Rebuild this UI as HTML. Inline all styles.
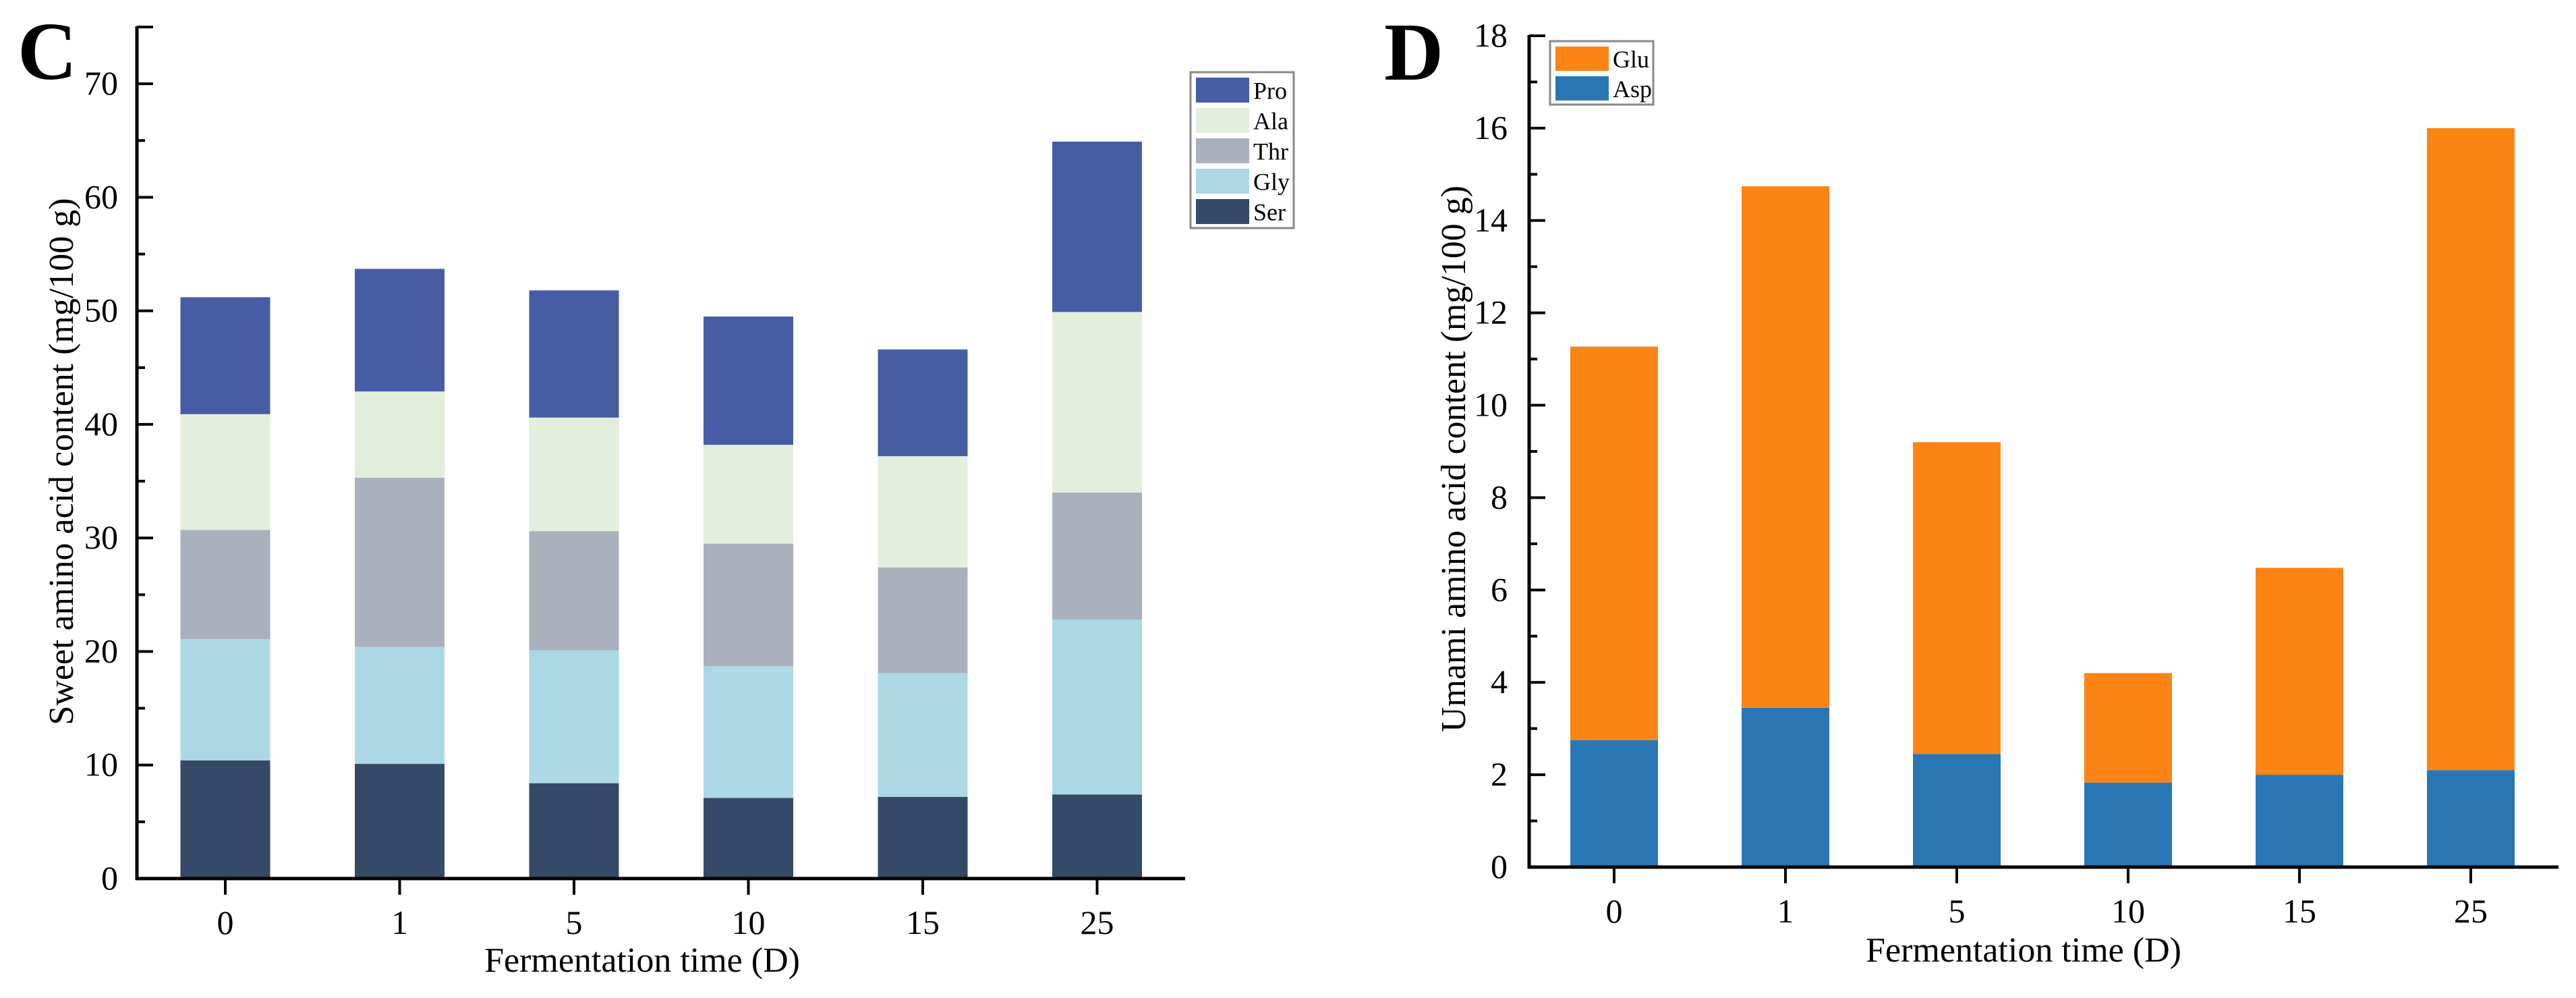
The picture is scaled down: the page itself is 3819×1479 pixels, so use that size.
<!DOCTYPE html>
<html><head><meta charset="utf-8"><style>
html,body{margin:0;padding:0;background:#fff;width:3819px;height:1479px;overflow:hidden}
svg{display:block}
text{font-family:"Liberation Serif","Times New Roman",serif}
</style></head><body>
<svg id="fig" width="3819" height="1479" viewBox="0 0 3819 1479" xmlns="http://www.w3.org/2000/svg" font-family="Liberation Serif, serif">
<text x="26" y="117" font-size="122" font-weight="bold" font-family="Liberation Serif, serif">C</text>
<text x="2052" y="118" font-size="122" font-weight="bold" font-family="Liberation Serif, serif">D</text>
<g id="chartC"></g>
<g id="chartD"></g>
</svg>
<script>
const categories = ["0","1","5","10","15","25"];
// Chart C components (stacked)
const serVals = [10.4, 10.1, 8.4, 7.1, 7.2, 7.4];
const glyVals = [10.7, 10.3, 11.7, 11.6, 10.9, 15.4];
const thrVals = [9.6, 14.9, 10.5, 10.8, 9.3, 11.2];
const alaVals = [10.2, 7.6, 10.0, 8.7, 9.8, 15.9];
const proVals = [10.3, 10.8, 11.2, 11.3, 9.4, 15.0];
const cTicks = [0,10,20,30,40,50,60,70];
// Chart D components
const aspVals = [2.75, 3.45, 2.45, 1.83, 2.0, 2.1];
const gluVals = [8.52, 11.29, 6.75, 2.37, 4.48, 13.9];
const dTicks = [0,2,4,6,8,10,12,14,16,18];

const NS="http://www.w3.org/2000/svg";
const FF="Liberation Serif, serif";
function mk(parent,tag,attrs){const e=document.createElementNS(NS,tag);for(const k in attrs)e.setAttribute(k,attrs[k]);if(tag==='text')e.setAttribute('font-family',FF);parent.appendChild(e);return e;}

function drawChart(g, cfg){
  const {x0,x1,yTop,y0,yMax,minorStep,first,step,barW,series,ticks,ylabel,ylx,yly,xlx,xly,tickLabRight,legend}=cfg;
  const ys=v=>y0-(v/yMax)*(y0-yTop);
  const xs=i=>first+i*step;
  categories.forEach((c,i)=>{
    let base=0;
    series.forEach(s=>{
      const v=s.vals[i];
      const r=mk(g,'rect',{x:xs(i)-barW/2,y:ys(base+v),width:barW,height:ys(base)-ys(base+v),fill:s.color});
      
      
      base+=v;
    });
  });
  const ya=mk(g,'line',{x1:x0,y1:yTop-1,x2:x0,y2:y0+2,stroke:'#000','stroke-width':5});
  
  
  const xa=mk(g,'line',{x1:x0-2,y1:y0,x2:x1,y2:y0,stroke:'#000','stroke-width':5});
  
  
  mk(g,'line',{x1:x0,y1:yTop,x2:x0+24,y2:yTop,stroke:'#000','stroke-width':4});
  for(let v=0; v<=yMax+1e-9; v+=minorStep){
    const major=ticks.some(t=>Math.abs(t-v)<1e-6);
    mk(g,'line',{x1:x0,y1:ys(v),x2:x0+(major?24:12),y2:ys(v),stroke:'#000','stroke-width':4});
  }
  ticks.forEach(t=>{
    const tx=mk(g,'text',{x:tickLabRight,y:ys(t)+16,'font-size':50,'text-anchor':'end'});
    tx.textContent=t;
    
    
  });
  categories.forEach((c,i)=>{
    mk(g,'line',{x1:xs(i),y1:y0,x2:xs(i),y2:y0+24,stroke:'#000','stroke-width':4});
    const tx=mk(g,'text',{x:xs(i),y:y0+82,'font-size':50,'text-anchor':'middle'});
    tx.textContent=c;
    
    
  });
  const yl=mk(g,'text',{x:ylx,y:yly,'font-size':52,'text-anchor':'middle',transform:`rotate(-90 ${ylx} ${yly})`});
  yl.textContent=ylabel;
  
  
  const xl=mk(g,'text',{x:xlx,y:xly,'font-size':52,'text-anchor':'middle'});
  xl.textContent='Fermentation time (D)';
  
  
  const L=legend;
  const lg=mk(g,'g',{});
  
  
  mk(lg,'rect',{x:L.x,y:L.y,width:L.w,height:L.h,fill:'#fff',stroke:'#888','stroke-width':3});
  const order=series.slice().reverse();
  order.forEach((s,k)=>{
    const yy=L.y+8+k*L.row;
    mk(lg,'rect',{x:L.x+8,y:yy,width:79,height:L.row-8,fill:s.color});
    const t=mk(lg,'text',{x:L.x+93,y:yy+L.row/2+9,'font-size':L.fs});
    t.textContent=s.name;
    
    
  });
}

drawChart(document.getElementById('chartC'),{
  x0:203,x1:1757,yTop:40,y0:1302,yMax:75,minorStep:5,first:334,step:258.5,barW:133,
  ticks:cTicks,ylabel:'Sweet amino acid content (mg/100 g)',ylx:108,yly:684,xlx:952,xly:1440,tickLabRight:175,
  series:[{name:'Ser',vals:serVals,color:'#344a66'},{name:'Gly',vals:glyVals,color:'#add8e6'},{name:'Thr',vals:thrVals,color:'#aab1bc'},{name:'Ala',vals:alaVals,color:'#e3eedc'},{name:'Pro',vals:proVals,color:'#465da6'}],
  legend:{x:1765,y:107,w:153,h:231,row:45,fs:36}
});
drawChart(document.getElementById('chartD'),{
  x0:2267,x1:3793,yTop:53,y0:1285,yMax:18,minorStep:1,first:2393,step:254,barW:130,
  ticks:dTicks,ylabel:'Umami amino acid content (mg/100 g)',ylx:2172,yly:680,xlx:3000,xly:1425,tickLabRight:2235,
  series:[{name:'Asp',vals:aspVals,color:'#2877b4'},{name:'Glu',vals:gluVals,color:'#fb8415'}],
  legend:{x:2298,y:61,w:153,h:94,row:44,fs:36}
});
</script>
</body></html>
